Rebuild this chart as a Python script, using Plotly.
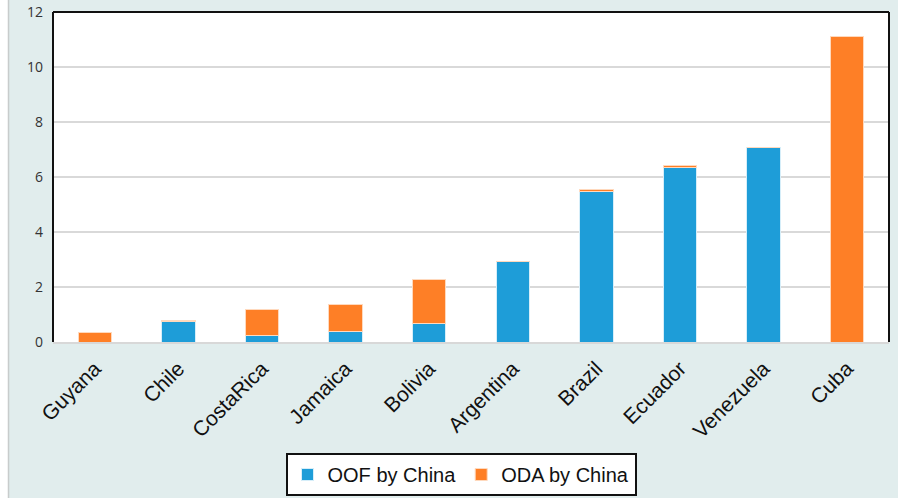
import plotly.graph_objects as go

countries = ["Guyana", "Chile", "CostaRica", "Jamaica", "Bolivia", "Argentina",
             "Brazil", "Ecuador", "Venezuela", "Cuba"]
oof = [0.0, 0.75, 0.23, 0.37, 0.67, 2.91, 5.46, 6.36, 7.09, 0.0]
oda = [0.35, 0.04, 0.97, 0.99, 1.60, 0.0, 0.07, 0.07, 0.0, 11.1]
yticks = [0, 2, 4, 6, 8, 10, 12]

W, H = 898, 498
ml, mr, mt, mb = 53, 9, 12, 156
pw = W - ml - mr
ph = H - mt - mb

fig = go.Figure()
fig.add_trace(go.Bar(x=countries, y=oof, name="OOF by China",
                     marker=dict(color="#1e9dd8", line=dict(color="#d6eef9", width=1))))
fig.add_trace(go.Bar(x=countries, y=oda, name="ODA by China",
                     marker=dict(color="#fe7f26", line=dict(color="#ffd9bd", width=1))))

def px_x(p):
    return (p - ml) / pw

def px_y(p):
    return 1 - (p - mt) / ph

shapes = [
    dict(type="rect", xref="paper", yref="paper", x0=px_x(0), x1=px_x(8), y0=px_y(H + 5), y1=px_y(-5),
         fillcolor="white", line=dict(width=0), layer="below"),
    dict(type="line", xref="paper", yref="paper", x0=px_x(8.5), x1=px_x(8.5), y0=px_y(H + 5), y1=px_y(-5),
         line=dict(color="#c8cccc", width=1.5), layer="below"),
    dict(type="line", xref="paper", yref="paper", x0=0, x1=1, y0=1, y1=1,
         line=dict(color="#111111", width=2)),
    dict(type="line", xref="paper", yref="paper", x0=0, x1=0, y0=0, y1=1,
         line=dict(color="#111111", width=2)),
    dict(type="line", xref="paper", yref="paper", x0=1, x1=1, y0=0, y1=1,
         line=dict(color="#111111", width=2)),
]

fig.update_layout(
    width=W, height=H,
    margin=dict(l=ml, r=mr, t=mt, b=mb, autoexpand=False),
    paper_bgcolor="#e1eded",
    plot_bgcolor="white",
    barmode="stack",
    bargap=0.6,
    shapes=shapes,
    showlegend=True,
    legend=dict(orientation="h", x=px_x(461), xanchor="center", y=px_y(496), yanchor="bottom",
                bgcolor="white", bordercolor="#111111", borderwidth=2,
                font=dict(family="Liberation Sans, Arial", size=20, color="#111111"),
                itemwidth=30, traceorder="normal"),
    xaxis=dict(tickangle=-45, tickfont=dict(family="Liberation Sans, Arial", size=21, color="#111111"),
               showline=True, linecolor="#d8d8d8", linewidth=2, ticks="", showgrid=False,
               automargin=False, ticklabelstandoff=4),
    yaxis=dict(range=[0, 12], tickvals=yticks, ticktext=[str(v) for v in yticks],
               tickfont=dict(family="Open Sans, Noto Sans", size=14, color="#333333"),
               showgrid=True, gridcolor="#d9d9d9", gridwidth=1.5, zeroline=False,
               showline=False, ticks="", ticklen=0, ticklabelstandoff=9, automargin=False),
)

fig.write_html("out.html")
